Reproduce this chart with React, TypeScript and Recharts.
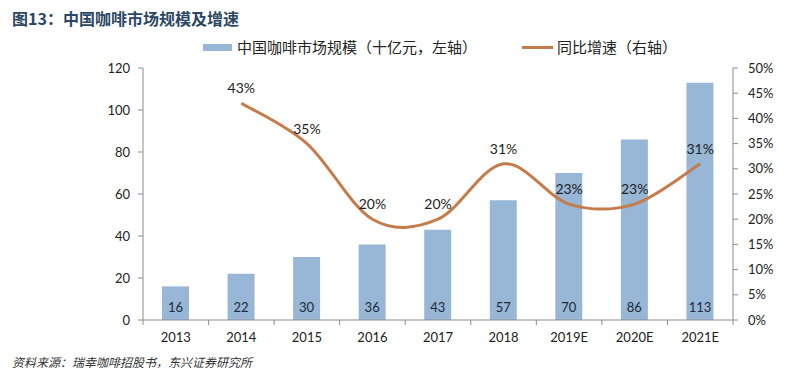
import React from "react";
import { ComposedChart, Bar, Line, XAxis, YAxis, LabelList } from "recharts";

const categories = ["2013", "2014", "2015", "2016", "2017", "2018", "2019E", "2020E", "2021E"];
const marketSize = [16, 22, 30, 36, 43, 57, 70, 86, 113];
const growth = [null, 43, 35, 20, 20, 31, 23, 23, 31];
const leftTicks = [0, 20, 40, 60, 80, 100, 120];
const rightTicks = [0, 5, 10, 15, 20, 25, 30, 35, 40, 45, 50];

const data = categories.map((c, i) => ({ name: c, size: marketSize[i], growth: growth[i] }));

const FONT = "Lato, 'Noto Sans', sans-serif";
const CJK = "'Noto Sans CJK SC', sans-serif";
const AXIS = "#8c8c8c";
const BAR = "#98b6d6";
const LINE = "#c67b4b";

// Excel-like smoothed line (Catmull-Rom style Bezier, tension 1/6)
function smoothCurve(context: any) {
  let pts: [number, number][] = [];
  return {
    areaStart() {},
    areaEnd() {},
    lineStart() {
      pts = [];
    },
    point(x: number, y: number) {
      pts.push([+x, +y]);
    },
    lineEnd() {
      const n = pts.length;
      if (!n) return;
      context.moveTo(pts[0][0], pts[0][1]);
      for (let i = 0; i < n - 1; i++) {
        const p0 = pts[Math.max(0, i - 1)];
        const p1 = pts[i];
        const p2 = pts[i + 1];
        const p3 = pts[Math.min(n - 1, i + 2)];
        const c1x = p1[0] + (p2[0] - p0[0]) / 6;
        const c1y = p1[1] + (p2[1] - p0[1]) / 6;
        const c2x = p2[0] - (p3[0] - p1[0]) / 6;
        const c2y = p2[1] - (p3[1] - p1[1]) / 6;
        context.bezierCurveTo(c1x, c1y, c2x, c2y, p2[0], p2[1]);
      }
    },
  };
}

const XTick = (props: any) => {
  const { x, y, payload } = props;
  const half = payload && payload.offset ? payload.offset : 32.8;
  return (
    <g>
      <line x1={x - half} x2={x - half} y1={y - 8} y2={y - 3} stroke={AXIS} />
      {payload.index === categories.length - 1 && (
        <line x1={x + half} x2={x + half} y1={y - 8} y2={y - 3} stroke={AXIS} />
      )}
      <text x={x} y={y + 14} textAnchor="middle" fontSize={13} fill="#222" fontFamily={FONT}>
        {payload.value}
      </text>
    </g>
  );
};

export default function App() {
  return (
    <div style={{ position: "absolute", left: 0, top: 0, width: 800, height: 382, background: "#fff" }}>
      <div
        style={{
          position: "absolute",
          left: 12,
          top: 6,
          fontFamily: CJK,
          fontWeight: 700,
          fontSize: 16,
          color: "#2c4763",
          whiteSpace: "nowrap",
        }}
      >
        图13：中国咖啡市场规模及增速
      </div>
      <div style={{ position: "absolute", left: 203, top: 44, width: 29, height: 7, background: BAR }} />
      <div
        style={{ position: "absolute", left: 237, top: 36, fontFamily: CJK, fontSize: 15, color: "#222", whiteSpace: "nowrap" }}
      >
        中国咖啡市场规模（十亿元，左轴）
      </div>
      <div style={{ position: "absolute", left: 522, top: 46, width: 31, height: 3, background: LINE }} />
      <div
        style={{ position: "absolute", left: 557, top: 36, fontFamily: CJK, fontSize: 15, color: "#222", whiteSpace: "nowrap" }}
      >
        同比增速（右轴）
      </div>
      <ComposedChart
        width={800}
        height={382}
        data={data}
        margin={{ top: 68, right: 0, left: 0, bottom: 32 }}
      >
        <XAxis
          dataKey="name"
          height={30}
          axisLine={{ stroke: AXIS }}
          tickLine={false}
          tick={<XTick />}
          interval={0}
        />
        <YAxis
          yAxisId="left"
          width={143}
          domain={[0, 120]}
          ticks={leftTicks}
          axisLine={{ stroke: AXIS }}
          tickLine={{ stroke: AXIS }}
          tickSize={5}
          tick={{ fontSize: 13, fill: "#222", fontFamily: FONT }}
          tickMargin={8}
        />
        <YAxis
          yAxisId="right"
          orientation="right"
          width={67}
          domain={[0, 50]}
          ticks={rightTicks}
          tickFormatter={(v: number) => `${v}%`}
          axisLine={{ stroke: AXIS }}
          tickLine={{ stroke: AXIS }}
          tickSize={5}
          tick={{ fontSize: 13, fill: "#222", fontFamily: FONT }}
          tickMargin={10}
        />
        <Bar yAxisId="left" dataKey="size" fill={BAR} barSize={27} isAnimationActive={false}>
          <LabelList
            dataKey="size"
            position="insideBottom"
            offset={8}
            fill="#1c2a3a"
            fontSize={13}
            fontFamily={FONT}
          />
        </Bar>
        <Line
          yAxisId="right"
          dataKey="growth"
          type={smoothCurve as any}
          stroke={LINE}
          strokeWidth={3}
          dot={false}
          activeDot={false}
          isAnimationActive={false}
        >
          <LabelList
            dataKey="growth"
            position="top"
            offset={10}
            formatter={(v: any) => (v == null ? "" : `${v}%`)}
            fill="#222"
            fontSize={14}
            fontFamily={FONT}
          />
        </Line>
      </ComposedChart>
      <div
        style={{
          position: "absolute",
          left: 12,
          top: 353,
          fontFamily: CJK,
          fontStyle: "italic",
          fontSize: 12,
          color: "#333",
          whiteSpace: "nowrap",
        }}
      >
        资料来源：瑞幸咖啡招股书，东兴证券研究所
      </div>
    </div>
  );
}
